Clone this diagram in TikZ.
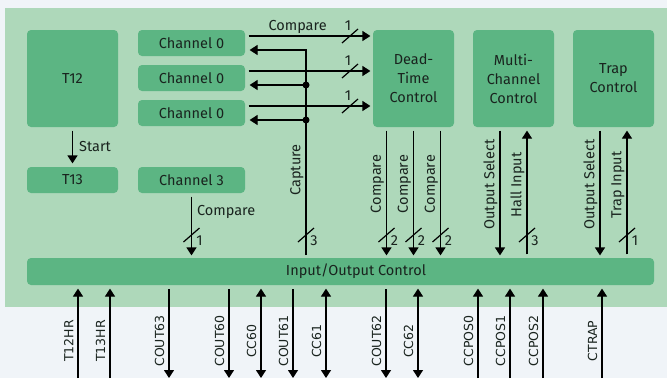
\documentclass[tikz,border=0pt]{standalone}
\usepackage{fontspec}
\setmainfont{Fira Sans}
\newfontfamily\pinfont{DejaVu Sans}
\usetikzlibrary{positioning, arrows.meta, calc}
\definecolor{pagegray}{RGB}{240,244,248}
\definecolor{panelgreen}{RGB}{174,216,186}
\definecolor{boxgreen}{RGB}{92,181,131}
\definecolor{inkdark}{RGB}{25,35,30}

\begin{document}
\begin{tikzpicture}[x=1pt, y=-1pt, >={Triangle[length=8pt,width=10pt]}, line width=1.2pt,
  block/.style={fill=boxgreen, rounded corners=4pt, inner sep=0pt, align=center, text=inkdark, font=\fontsize{14.5}{19}\selectfont},
  chan/.style={block, minimum width=107pt, minimum height=26pt},
  ctrl/.style={block, minimum width=81pt, minimum height=97pt},
  lbl/.style={text=inkdark, inner sep=2pt, font=\fontsize{14.5}{17}\selectfont},
  vlbl/.style={lbl, rotate=90, anchor=south},
  pinlbl/.style={vlbl, inner sep=4pt, font=\pinfont\fontsize{12.5}{14}\selectfont},
  sig/.style={shorten <=3pt, shorten >=2pt},
  pinline/.style={shorten >=3pt}]
\def\busv#1#2{\draw (#1) ++(-8,7) -- ++(16,-14); \node[lbl, inner sep=0pt] at ($(#1)+(8,6)$) {#2};}
\def\bush#1#2{\draw (#1) ++(-8,7) -- ++(16,-14); \node[lbl, inner sep=0pt] at ($(#1)+(-2,-10)$) {#2};}

%Background
\fill[pagegray] (0,0) rectangle (667,378);
\fill[panelgreen] (5,8) rectangle (667,307);
\useasboundingbox (0,0) rectangle (667,378);

%Timers
\node (t12) at (72.5,78.5) [block, minimum width=91pt, minimum height=97pt] {T12};
\node (t13) at (72.5,180) [block, minimum width=91pt, minimum height=26pt] {T13};

%Channels
\node (ch0a) at (191.5,43) [chan] {Channel 0};
\node (ch0b) at (191.5,78) [chan] {Channel 0};
\node (ch0c) at (191.5,113) [chan] {Channel 0};
\node (ch3) at (191.5,180) [chan] {Channel 3};

%Control blocks
\node (dtc) at (413.5,78.5) [ctrl] {Dead-\\Time\\Control};
\node (mcc) at (513.5,78.5) [ctrl] {Multi-\\Channel\\Control};
\node (trap) at (613.5,78.5) [ctrl] {Trap\\Control};
\node (io) at (340.5,271.5) [block, minimum width=627pt, minimum height=27pt] {};
\node (iotext) at (356,271.5) [lbl] {Input/Output Control};

%Helper coordinates
\coordinate (busrow) at (0,235);
\coordinate (busx) at (350,0);
\coordinate (capbot) at (306,255);

%Start
\draw[->, shorten <=3pt, shorten >=3pt] (t12) -- (t13) node[midway, right=4pt, lbl] {Start};

%Compare and Capture between channels and dead-time
\coordinate (cmpA) at ([yshift=7pt]ch0a.east);
\coordinate (cmpB) at ([yshift=7pt]ch0b.east);
\coordinate (cmpC) at ([yshift=7pt]ch0c.east);
\coordinate (capA) at ([yshift=-7pt]ch0a.east);
\coordinate (capB) at ([yshift=-7pt]ch0b.east);
\coordinate (capC) at ([yshift=-7pt]ch0c.east);

\draw[->, sig] (cmpA) -- (cmpA -| dtc.west) node[pos=0.41, above, lbl] {Compare};
\draw[->, sig] (cmpB) -- (cmpB -| dtc.west);
\draw[->, sig] (cmpC) -- (cmpC -| dtc.west);
\bush{cmpA -| busx}{1}
\bush{cmpB -| busx}{1}
\bush{cmpC -| busx}{1}

\draw[->, shorten >=4pt] (capbot) |- (capA);
\draw[->, shorten >=4pt] (capB -| capbot) -- (capB);
\draw[->, shorten >=4pt] (capC -| capbot) -- (capC);
\fill (capB -| capbot) circle (3.5pt);
\fill (capC -| capbot) circle (3.5pt);
\node[vlbl] at (306,170) {Capture};
\busv{capbot |- busrow}{3}

%Channel 3
\draw[->, sig] (ch3) -- (ch3 |- io.north) node[pos=0.28, right=3pt, lbl] {Compare};
\busv{ch3 |- busrow}{1}

%Dead-time outputs
\coordinate (dtA) at ([xshift=-27pt]dtc.south);
\coordinate (dtB) at (dtc.south);
\coordinate (dtC) at ([xshift=27pt]dtc.south);
\draw[->, sig] (dtA) -- (dtA |- io.north) node[pos=0.435, vlbl] {Compare};
\draw[->, sig] (dtB) -- (dtB |- io.north) node[pos=0.435, vlbl] {Compare};
\draw[->, sig] (dtC) -- (dtC |- io.north) node[pos=0.435, vlbl] {Compare};
\busv{dtA |- busrow}{2}
\busv{dtB |- busrow}{2}
\busv{dtC |- busrow}{2}

%Multi-channel
\coordinate (mcA) at ([xshift=-13.5pt]mcc.south);
\coordinate (mcB) at ([xshift=13.5pt]mcc.south);
\draw[->, sig] (mcA) -- (mcA |- io.north) node[pos=0.44, vlbl] {Output Select};
\draw[->, shorten <=3pt, shorten >=3pt] (mcB |- io.north) -- (mcB) node[pos=0.557, vlbl] {Hall Input};
\busv{mcB |- busrow}{3}

%Trap
\coordinate (tpA) at ([xshift=-13.5pt]trap.south);
\coordinate (tpB) at ([xshift=13.5pt]trap.south);
\draw[->, sig] (tpA) -- (tpA |- io.north) node[pos=0.44, vlbl] {Output Select};
\draw[->, shorten <=3pt, shorten >=3pt] (tpB |- io.north) -- (tpB) node[pos=0.557, vlbl] {Trap Input};
\busv{tpB |- busrow}{1}

%Pins
\coordinate (t12hr) at (78,378);
\coordinate (t13hr) at (110,378);
\coordinate (cout63) at (169,378);
\coordinate (cout60) at (229,378);
\coordinate (cc60) at (261,378);
\coordinate (cout61) at (293,378);
\coordinate (cc61) at (326,378);
\coordinate (cout62) at (386,378);
\coordinate (cc62) at (418,378);
\coordinate (ccpos0) at (478,378);
\coordinate (ccpos1) at (510,378);
\coordinate (ccpos2) at (543,378);
\coordinate (ctrap) at (602,378);

\draw[->, pinline] (t12hr) -- (t12hr |- io.south) node[pos=0.4, pinlbl] {T12HR};
\draw[->, pinline] (t13hr) -- (t13hr |- io.south) node[pos=0.4, pinlbl] {T13HR};
\draw[<-, pinline] (cout63) -- (cout63 |- io.south) node[pos=0.4, pinlbl] {COUT63};
\draw[<-, pinline] (cout60) -- (cout60 |- io.south) node[pos=0.4, pinlbl] {COUT60};
\draw[<->, pinline] (cc60) -- (cc60 |- io.south) node[pos=0.4, pinlbl] {CC60};
\draw[<-, pinline] (cout61) -- (cout61 |- io.south) node[pos=0.4, pinlbl] {COUT61};
\draw[<->, pinline] (cc61) -- (cc61 |- io.south) node[pos=0.4, pinlbl] {CC61};
\draw[<-, pinline] (cout62) -- (cout62 |- io.south) node[pos=0.4, pinlbl] {COUT62};
\draw[<->, pinline] (cc62) -- (cc62 |- io.south) node[pos=0.4, pinlbl] {CC62};
\draw[->, pinline] (ccpos0) -- (ccpos0 |- io.south) node[pos=0.4, pinlbl] {CCPOS0};
\draw[->, pinline] (ccpos1) -- (ccpos1 |- io.south) node[pos=0.4, pinlbl] {CCPOS1};
\draw[->, pinline] (ccpos2) -- (ccpos2 |- io.south) node[pos=0.4, pinlbl] {CCPOS2};
\draw[->, pinline] (ctrap) -- (ctrap |- io.south) node[pos=0.4, pinlbl] {CTRAP};
\end{tikzpicture}
\end{document}
